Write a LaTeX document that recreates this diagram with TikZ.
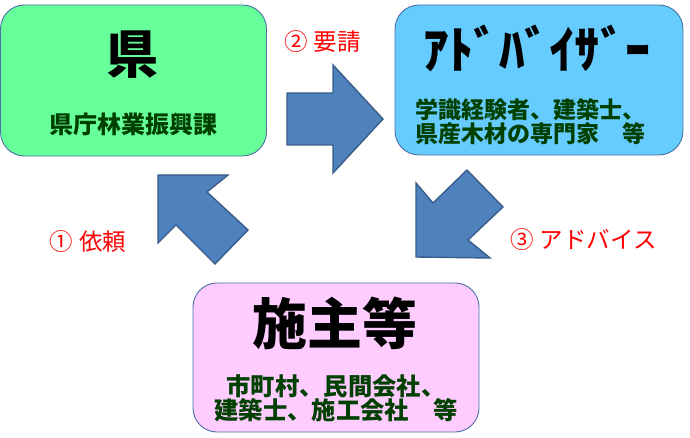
\documentclass[tikz,border=0pt]{standalone}
\usepackage{fontspec}
\newfontfamily\jp{Noto Sans CJK JP}
\definecolor{boxline}{HTML}{4A6FA5}
\definecolor{greenfill}{HTML}{66FF99}
\definecolor{bluefill}{HTML}{66CCFF}
\definecolor{pinkfill}{HTML}{FFCCFF}
\definecolor{arrowfill}{HTML}{4F81BD}
\definecolor{arrowline}{HTML}{385D8A}
\definecolor{subgreen}{HTML}{004000}
\definecolor{labred}{HTML}{FF0000}
\tikzset{
  panel/.style={draw=boxline, line width=0.9pt, rounded corners=24pt, inner sep=0pt},
  titletext/.style={inner sep=0pt, text=black, font=\jp\bfseries},
  subtext/.style={inner sep=0pt, text=subgreen, font=\jp\bfseries\fontsize{23}{24}\selectfont, align=left},
  steplabel/.style={inner sep=0pt, text=labred, font=\jp\fontsize{23.5}{26}\selectfont}
}
\tikzset{bigarrow/.style={fill=arrowfill, draw=arrowline, line width=1.4pt, line join=miter}}
\begin{document}
\begin{tikzpicture}[x=1pt,y=-1pt]
\useasboundingbox (0,0) rectangle (690,438);
% boxes
\node[panel, fill=greenfill, minimum width=266pt, minimum height=151pt] (ken) at (133.5,80.5) {};
\node[panel, fill=bluefill, minimum width=288pt, minimum height=150pt] (adv) at (539,80) {};
\node[panel, fill=pinkfill, minimum width=286pt, minimum height=149pt] (seshu) at (336,357.5) {};
% titles
\node[titletext, font=\jp\bfseries\fontsize{52}{56}\selectfont] (kent) at (132,55) {県};
\node[subtext, font=\jp\bfseries\fontsize{24}{24}\selectfont] (kens) at (133,124) {県庁林業振興課};
\node[titletext, font=\jp\bfseries\fontsize{50.5}{54}\selectfont] (advt) at (537,48) {ｱﾄﾞﾊﾞｲｻﾞｰ};
\node[subtext] (advs) at (530,121.5) {学識経験者、建築士、\\県産木材の専門家　等};
\node[titletext, font=\jp\bfseries\fontsize{55}{60}\selectfont] (seshut) at (335,323) {施主等};
\node[subtext, align=center, font=\jp\bfseries\fontsize{24.3}{23.5}\selectfont] (seshus) at (336,398.5) {市町村、民間会社、\\建築士、施工会社　等};
% arrows
\draw[bigarrow] (287,93) -- (333,93) -- (333,65) -- (383,119) -- (333,173) -- (333,145) -- (287,145) -- cycle;
\draw[bigarrow] (416,257) -- (490,258) -- (468,240) -- (503,207) -- (467,170) -- (433,203) -- (416,183) -- cycle;
\draw[bigarrow] (158,175) -- (228,175) -- (207,192) -- (248,230) -- (215,264) -- (176,225) -- (158,243) -- cycle;
% labels
\node[steplabel] (l2) at (322.5,42) {②\hspace{6pt}要請};
\node[steplabel] (l3) at (583.5,240) {③\hspace{6pt}アドバイス};
\node[steplabel] (l1) at (88,242) {①\hspace{6pt}依頼};
\end{tikzpicture}
\end{document}
